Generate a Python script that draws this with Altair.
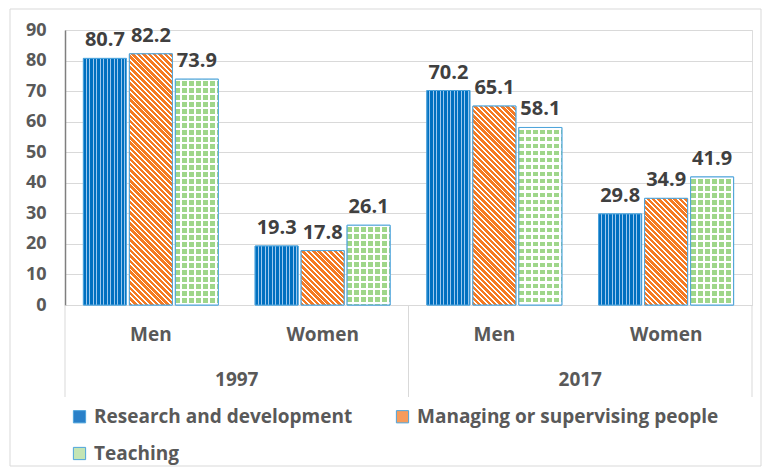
import math
import altair as alt
import pandas as pd

# ---------------- data ----------------
years = ["1997", "1997", "2017", "2017"]
sexes = ["Men", "Women", "Men", "Women"]
series_names = ["Research and development", "Managing or supervising people", "Teaching"]
research = [80.7, 19.3, 70.2, 29.8]
managing = [82.2, 17.8, 65.1, 34.9]
teaching = [73.9, 26.1, 58.1, 41.9]
y_ticks = [0, 10, 20, 30, 40, 50, 60, 70, 80, 90]

# ---------------- layout / style ----------------
W, H = 687, 275
YMAX = 90
FONT = "Open Sans"
TXT = "#595959"
STROKE = "#4ea4dc"
BLUE, BLUE_L = "#0070c0", "#9cc8ee"
ORANGE = "#f57a22"
GREEN = "#9fd68a"
WHITE = "#ffffff"
CLEAR = "rgba(255,255,255,0)"

rows = []
for s, vals in zip(series_names, [research, managing, teaching]):
    for yr, sx, v in zip(years, sexes, vals):
        rows.append({"group": f"{yr} {sx}", "year": yr, "sex": sx, "series": s, "value": v})
df = pd.DataFrame(rows)
group_order = [f"{yr} {sx}" for yr, sx in zip(years, sexes)]

BAND = W / len(group_order)
PI, PO = 0.065, 0.4
STEP = BAND / (3 - PI + 2 * PO)
BW = STEP * (1 - PI)


def xe(bp=None):
    kw = {}
    if bp is not None:
        kw["bandPosition"] = bp
    return alt.X(
        "group:N",
        sort=group_order,
        scale=alt.Scale(domain=group_order, paddingInner=0, paddingOuter=0),
        axis=alt.Axis(
            title=None, ticks=False, domainColor="#d9d9d9", domainWidth=1,
            labelExpr="split(datum.label, ' ')[1]", labelAngle=0,
            labelFont=FONT, labelFontSize=19, labelFontWeight="bold",
            labelColor=TXT, labelPadding=20,
        ),
        **kw,
    )


XO = alt.XOffset("series:N", sort=series_names,
                 scale=alt.Scale(domain=series_names, paddingInner=PI, paddingOuter=PO))
YE = alt.Y(
    "value:Q",
    scale=alt.Scale(domain=[0, YMAX], nice=False),
    axis=alt.Axis(
        title=None, values=y_ticks, ticks=False, grid=True, gridColor="#d9d9d9",
        domainColor="#7f7f7f", domainWidth=1.5, labelFont=FONT, labelFontSize=18,
        labelFontWeight="bold", labelColor=TXT, labelPadding=19,
    ),
)


def stripe_stops(c1, c2, frac1, period, tmax=1.0, tail=None):
    stops = []
    t = 0.0
    while t < tmax and t < 1:
        t1 = min(t + period * frac1, 1.0)
        t2 = min(t + period, 1.0)
        stops += [(t, c1), (t1, c1), (t1, c2), (t2, c2)]
        t = t2
    if t < 1:
        stops += [(t, tail or c1), (1.0, tail or c1)]
    out = []
    last = 0.0
    for o, c in stops:
        o = max(last, round(o, 5))
        last = o
        out.append(alt.GradientStop(color=c, offset=o))
    return out


def grad(stops, x1, y1, x2, y2):
    return alt.LinearGradient(gradient="linear", stops=stops, x1=x1, y1=y1, x2=x2, y2=y2)


layers = []

# outer chart frame
frame = alt.Chart(pd.DataFrame({"k": [0]})).mark_rect(
    fillOpacity=0, stroke="#d9d9d9", strokeWidth=1
).encode(x=alt.value(-55), x2=alt.value(W + 9), y=alt.value(-21), y2=alt.value(H + 161))
layers.append(frame)

# legend order (legend fills column by column): RD, Teaching | Managing
legend_order = [series_names[0], series_names[2], series_names[1]]
legend_colors = ["#2a80c8", "#c4e5b4", "#f79b5c"]

# base bars (solid colours, provide the legend)
base = alt.Chart(df).mark_bar(stroke=STROKE, strokeWidth=1).encode(
    x=xe(), xOffset=XO, y=YE,
    color=alt.Color(
        "series:N",
        scale=alt.Scale(domain=legend_order, range=legend_colors),
        legend=alt.Legend(
            title=None, orient="none", legendX=5, legendY=377, columns=2,
            columnPadding=40, rowPadding=17, symbolType="square", symbolSize=150,
            symbolStrokeColor=STROKE, symbolStrokeWidth=1, labelFont=FONT,
            labelFontSize=19, labelFontWeight="bold", labelColor=TXT, labelOffset=5,
            labelLimit=400,
        ),
    ),
)
layers.append(base)

# blue: vertical dotted columns
blue_grad = grad(stripe_stops(BLUE, BLUE_L, 0.68, 3.5 / BW), 0, 0, 1, 0)
layers.append(
    alt.Chart(df[df.series == series_names[0]]).mark_bar(
        fill=blue_grad, stroke=STROKE, strokeWidth=1
    ).encode(x=xe(), xOffset=XO, y=YE)
)

# orange: diagonal stripes, one layer per bar (gradient normalised to the bar box)
for v in managing:
    h = v / YMAX * H
    r = h / BW
    tmax = (1 + r) / (1 + r * r) + 0.01
    dt = 3.8 * math.sqrt(2) / (BW * (1 + r * r))
    g = grad(stripe_stops(ORANGE, WHITE, 0.64, dt, tmax), 0, 1, 1, 1 - r)
    layers.append(
        alt.Chart(df[(df.series == series_names[1]) & (df.value == v)]).mark_bar(
            fill=g, stroke=STROKE, strokeWidth=1
        ).encode(x=xe(), xOffset=XO, y=YE)
    )

# green: grid of blocks (vertical stripes + horizontal white lines)
green_grad = grad(stripe_stops(GREEN, WHITE, 0.7, 7.0 / BW), 0, 0, 1, 0)
layers.append(
    alt.Chart(df[df.series == series_names[2]]).mark_bar(fill=green_grad).encode(
        x=xe(), xOffset=XO, y=YE
    )
)
for v in teaching:
    h = v / YMAX * H
    g = grad(stripe_stops(WHITE, CLEAR, 0.3, 7.0 / h), 0, 0, 0, 1)
    layers.append(
        alt.Chart(df[(df.series == series_names[2]) & (df.value == v)]).mark_bar(
            fill=g, stroke=STROKE, strokeWidth=1
        ).encode(x=xe(), xOffset=XO, y=YE)
    )

# value labels
layers.append(
    alt.Chart(df).mark_text(
        font=FONT, fontSize=20, fontWeight="bold", color="#404040",
        baseline="alphabetic", dy=-12,
    ).encode(x=xe(), xOffset=XO, y=YE, text=alt.Text("value:Q", format=".1f"))
)

# category separators below the axis
sep_df = pd.DataFrame({"group": [group_order[0], group_order[2]]})
layers.append(
    alt.Chart(sep_df).mark_rule(color="#d9d9d9", strokeWidth=1).encode(
        x=xe(0), y=alt.value(H), y2=alt.value(H + 92)
    )
)
layers.append(
    alt.Chart(pd.DataFrame({"group": [group_order[-1]]})).mark_rule(
        color="#d9d9d9", strokeWidth=1
    ).encode(x=xe(1), y=alt.value(H), y2=alt.value(H + 92))
)

# year labels
year_df = pd.DataFrame({"group": [group_order[0], group_order[2]], "year": [years[0], years[2]]})
layers.append(
    alt.Chart(year_df).mark_text(
        font=FONT, fontSize=19, fontWeight="bold", color=TXT, baseline="middle"
    ).encode(x=xe(1), y=alt.value(H + 75), text="year:N")
)

chart = alt.layer(*layers).properties(
    width=W, height=H,
    autosize=alt.AutoSizeParams(type="none"),
    padding={"left": 57, "top": 22, "right": 10, "bottom": 162},
).configure_view(stroke=None).configure(background="white")

chart.save("out.html", embed_options={"renderer": "svg", "actions": False})
